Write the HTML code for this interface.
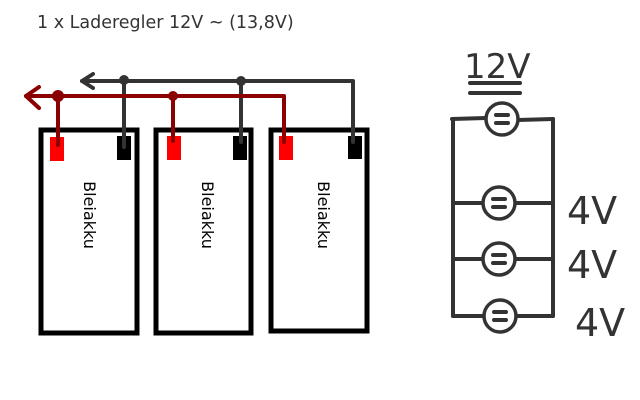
<!DOCTYPE html>
<html><head><style>body{margin:0;background:#fff}svg{display:block}</style></head><body>
<svg width="640" height="400" xmlns="http://www.w3.org/2000/svg">
<text x="37" y="28" font-family="DejaVu Sans, sans-serif" font-size="17.5" fill="#333">1 x Laderegler 12V ~ (13,8V)</text>
<g fill="none" stroke="#000" stroke-width="5">
<rect x="41" y="130" width="96" height="203"/>
<rect x="156" y="130" width="95" height="203"/>
<rect x="271" y="130" width="96" height="201"/>
</g>
<g fill="#f00"><rect x="50" y="137" width="14" height="24"/><rect x="167" y="136" width="14" height="24"/><rect x="279" y="136" width="14" height="24"/></g>
<g fill="#000"><rect x="117" y="136" width="14" height="24"/><rect x="233" y="136" width="14" height="24"/><rect x="348" y="136" width="14" height="23"/></g>
<g stroke="#333" stroke-width="4" fill="none" stroke-linecap="round" stroke-linejoin="round">
<polyline points="82,81 353,81 353,142"/>
<line x1="124" y1="81" x2="124" y2="147"/>
<line x1="241" y1="81" x2="241" y2="142"/>
<polyline points="93,74 82,81 93,88"/>
</g>
<g fill="#333"><circle cx="124" cy="80" r="5"/><circle cx="241" cy="81" r="5"/></g>
<g stroke="#8b0000" stroke-width="4" fill="none" stroke-linecap="round" stroke-linejoin="round">
<polyline points="26,96 284,96 284,142"/>
<line x1="58" y1="96" x2="58" y2="145"/>
<line x1="173" y1="96" x2="173" y2="141"/>
<polyline points="39,87 26,96 39,108"/>
</g>
<g fill="#8b0000"><circle cx="58" cy="96" r="6"/><circle cx="173" cy="96" r="5"/></g>
<g font-family="DejaVu Sans, sans-serif" font-size="16" fill="#000" text-anchor="middle">
<text transform="translate(84,215) rotate(90)">Bleiakku</text>
<text transform="translate(202,215) rotate(90)">Bleiakku</text>
<text transform="translate(318,215) rotate(90)">Bleiakku</text>
</g>
<g stroke="#333" stroke-width="4" fill="none" stroke-linecap="round">
<line x1="452" y1="119" x2="486" y2="118"/><line x1="518" y1="120" x2="553" y2="119"/>
<line x1="453" y1="119" x2="453" y2="316"/><line x1="553" y1="119" x2="553" y2="316"/>
<line x1="453" y1="203" x2="553" y2="203"/>
<line x1="453" y1="259" x2="553" y2="259"/>
<line x1="453" y1="316" x2="553" y2="316"/>
<line x1="470" y1="83" x2="520" y2="83"/><line x1="470" y1="93" x2="520" y2="93"/>
</g>
<g stroke="#333" stroke-width="3.5" fill="#fff">
<circle cx="502" cy="119" r="16"/><circle cx="499" cy="203" r="16"/><circle cx="499" cy="259" r="16"/><circle cx="500" cy="316" r="16"/>
</g>
<g stroke="#333" stroke-width="4" stroke-linecap="round">
<line x1="496" y1="115" x2="508" y2="115"/><line x1="496" y1="123" x2="508" y2="123"/>
<line x1="493" y1="199" x2="505" y2="199"/><line x1="493" y1="207" x2="505" y2="207"/>
<line x1="493" y1="255" x2="505" y2="255"/><line x1="493" y1="263" x2="505" y2="263"/>
<line x1="494" y1="312" x2="506" y2="312"/><line x1="494" y1="320" x2="506" y2="320"/>
</g>
<g font-family="DejaVu Sans, sans-serif" fill="#333" font-size="38">
<text x="464" y="78" font-size="34">12V</text>
<text x="567" y="224">4V</text>
<text x="567" y="278">4V</text>
<text x="575" y="336">4V</text>
</g>
</svg>
</body></html>
